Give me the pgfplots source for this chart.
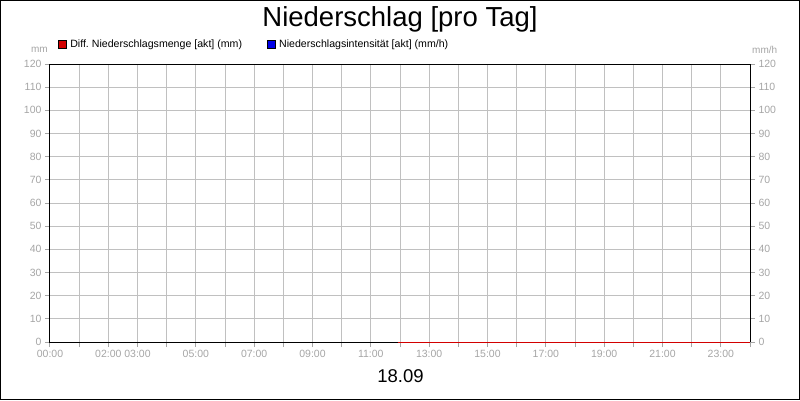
\documentclass[border=0pt]{standalone}
\usepackage{pgfplots}
\pgfplotsset{compat=1.18}
\usepackage{fontspec}
\setmainfont{Liberation Sans}
\frenchspacing
\definecolor{tickgrey}{RGB}{165,165,165}
\definecolor{gridgrey}{RGB}{192,192,192}
\definecolor{rainred}{RGB}{210,0,0}
\definecolor{rainblue}{RGB}{0,0,230}

\pgfplotsset{
  frame/.style={
    at={(50pt,58pt)}, anchor=south west,
    scale only axis, width=700pt, height=278pt,
    xmin=0, xmax=24, ymin=0, ymax=120,
    ytick={0,10,...,120},
    tick align=outside, major tick length=5pt,
    tick style={tickgrey, line width=1pt},
    axis line style={line width=1pt},
    ticklabel style={font=\fontsize{10.5}{12}\selectfont, text=tickgrey},
    /pgf/number format/assume math mode=true,
  }
}

\begin{document}
\begin{tikzpicture}[x=1pt,y=1pt]
\path[use as bounding box] (0,0) rectangle (800,400);
\draw[line width=1pt] (0.5,0.5) rectangle (799.5,399.5);

\begin{axis}[
  frame,
  clip=false,
  xtick={0,...,24},
  xticklabels={00:00,,02:00,03:00,,05:00,,07:00,,09:00,,11:00,,13:00,,15:00,,17:00,,19:00,,21:00,,23:00,},
  xtick pos=bottom, ytick pos=left,
  grid=major, grid style={gridgrey, line width=1pt},
  legend columns=2,
  legend style={
    at={(axis description cs:0.0114,1.072)}, anchor=west,
    draw=none, fill=none, inner sep=0pt,
    font=\fontsize{10.6}{12}\selectfont,
    nodes={inner sep=0pt},
    /tikz/every odd column/.append style={column sep=3.5pt},
    /tikz/every even column/.append style={column sep=25pt},
  },
  legend cell align=left,
]
\addplot[rainred, line width=1pt,
  legend image code/.code={\draw[fill=rainred, draw=black, line width=0.6pt] (0pt,-4pt) rectangle (8pt,4pt);}]
  coordinates {(11.92,0) (24,0)};
\addlegendentry{Diff. Niederschlagsmenge [akt] (mm)}
\addlegendimage{legend image code/.code={\draw[fill=rainblue, draw=black, line width=0.6pt] (0pt,-4pt) rectangle (8pt,4pt);}}
\addlegendentry{Niederschlagsintensität [akt] (mm/h)}
\end{axis}

\begin{axis}[
  frame,
  hide x axis,
  axis y line*=right,
]
\end{axis}

\node[font=\fontsize{27.5}{32}\selectfont] at (400,381) {Niederschlag [pro Tag]};
\node[font=\fontsize{18.5}{22}\selectfont] at (400.5,23.5) {18.09};
\node[font=\fontsize{10}{12}\selectfont, text=tickgrey, anchor=east, inner sep=0pt] at (48,350) {mm};
\node[font=\fontsize{10}{12}\selectfont, text=tickgrey, anchor=west, inner sep=0pt] at (752,350) {mm/h};
\end{tikzpicture}
\end{document}
